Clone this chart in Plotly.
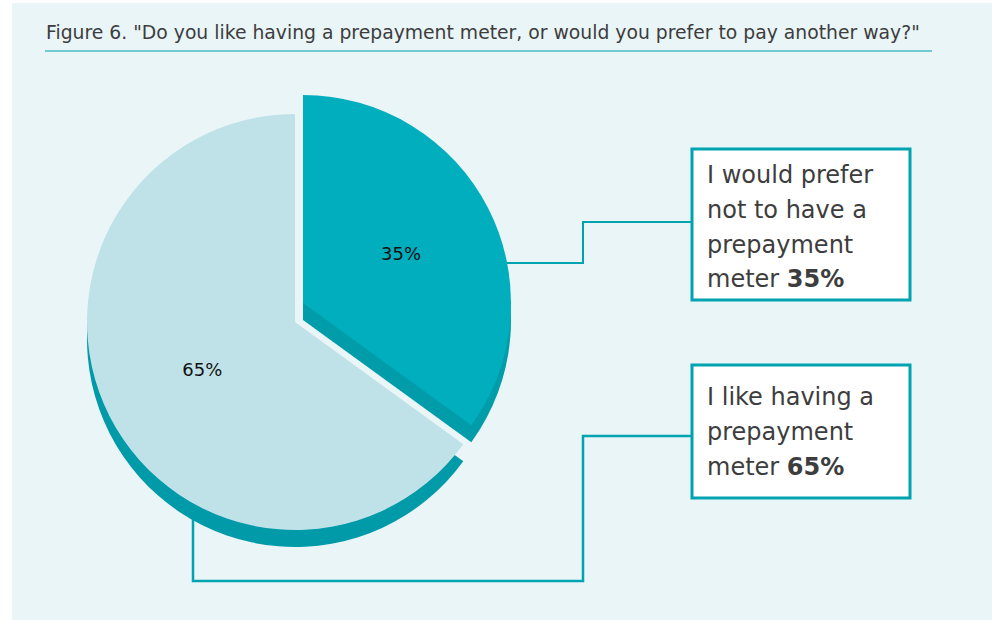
import plotly.graph_objects as go

W, H = 992, 620

# ---- data ----
title_text = 'Figure 6. "Do you like having a prepayment meter, or would you prefer to pay another way?"'
categories = ["I would prefer not to have a prepayment meter", "I like having a prepayment meter"]
values = [35, 65]
legend_lines = [
    ["I would prefer", "not to have a", "prepayment", "meter"],
    ["I like having a", "prepayment", "meter"],
]

# ---- styles ----
BG = "#EAF5F8"
DARK_TOP = "#00AEBD"
DARK_SIDE = "#009CAA"
LIGHT_TOP = "#BFE2E8"
LIGHT_SIDE = "#009AA9"
TEAL = "#00A3B0"
CLEAR = "rgba(0,0,0,0)"
FONT = "DejaVu Sans"
TXT = "#3d3d3d"


def px(x):
    return x / W


def py(y):
    return 1 - y / H


def dom(cx, cy, r):
    return dict(x=[px(cx - r), px(cx + r)], y=[py(cy + r), py(cy - r)])


R = 208
DEPTH = 17
light_c = (295, 322)
dark_c = (303, 303)


def pie(center, colors, texts=None):
    return go.Pie(
        labels=categories,
        values=values,
        sort=False,
        direction="clockwise",
        rotation=0,
        domain=dom(center[0], center[1], R),
        marker=dict(colors=colors, line=dict(width=0)),
        texttemplate=texts if texts else ["", ""],
        textposition="inside",
        insidetextorientation="horizontal",
        insidetextfont=dict(family=FONT, size=18, color="#111111"),
        hoverinfo="skip",
        showlegend=False,
    )


fig = go.Figure()
# side faces (extrusion)
fig.add_trace(pie((light_c[0], light_c[1] + DEPTH), [CLEAR, LIGHT_SIDE]))
fig.add_trace(pie((dark_c[0], dark_c[1] + DEPTH), [DARK_SIDE, CLEAR]))
# top faces
fig.add_trace(pie(light_c, [CLEAR, LIGHT_TOP], ["", "%{value}%"]))
fig.add_trace(pie(dark_c, [DARK_TOP, CLEAR], ["%{value}%", ""]))

shapes = []
# background panel
shapes.append(dict(type="rect", xref="paper", yref="paper", x0=px(12), x1=1, y0=0, y1=py(3),
                   fillcolor=BG, line=dict(width=0), layer="below"))
# title underline
shapes.append(dict(type="line", xref="paper", yref="paper", x0=px(45), x1=px(932), y0=py(51), y1=py(51),
                   line=dict(color="#4DBBC5", width=1.5), layer="below"))


def path(points):
    s = "M " + " L ".join(f"{px(x)},{py(y)}" for x, y in points)
    return s


# connector lines (behind pie)
shapes.append(dict(type="path", xref="paper", yref="paper",
                   path=path([(490, 263), (583, 263), (583, 222), (692, 222)]),
                   line=dict(color=TEAL, width=2), layer="below"))
shapes.append(dict(type="path", xref="paper", yref="paper",
                   path=path([(692, 436), (583, 436), (583, 581), (193, 581), (193, 500)]),
                   line=dict(color=TEAL, width=2.5), layer="below"))

# legend boxes
boxes = [(692, 149, 910, 300), (692, 365, 910, 498)]
for (x0, y0, x1, y1) in boxes:
    shapes.append(dict(type="rect", xref="paper", yref="paper", x0=px(x0), x1=px(x1), y0=py(y1), y1=py(y0),
                       fillcolor="white", line=dict(color=TEAL, width=3), layer="above"))

annotations = []
annotations.append(dict(text=title_text, xref="paper", yref="paper", x=px(44), y=py(32),
                        xanchor="left", yanchor="middle", showarrow=False,
                        font=dict(family=FONT, size=18.8, color=TXT)))

baselines = [[183, 218, 253, 287], [405, 440, 475]]
for lines, bls, v in zip(legend_lines, baselines, values):
    for i, (ln, b) in enumerate(zip(lines, bls)):
        t = ln if i < len(lines) - 1 else f"{ln} <b>{v}%</b>"
        annotations.append(dict(text=t, xref="paper", yref="paper", x=px(705), y=py(b - 8),
                                xanchor="left", yanchor="middle", showarrow=False,
                                font=dict(family=FONT, size=24, color=TXT)))

fig.update_layout(
    width=W, height=H,
    margin=dict(l=0, r=0, t=0, b=0),
    paper_bgcolor="white",
    plot_bgcolor="white",
    shapes=shapes,
    annotations=annotations,
    showlegend=False,
)

fig.write_html("out.html")
